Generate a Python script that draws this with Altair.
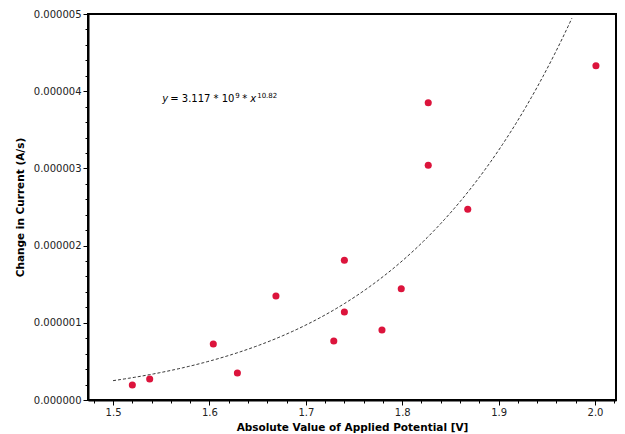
import altair as alt
import pandas as pd

# Measured data points
potential = [1.520, 1.538, 1.604, 1.629, 1.669, 1.729, 1.740, 1.740, 1.779, 1.799, 1.827, 1.827, 1.868, 2.001]
current = [0.194e-6, 0.272e-6, 0.725e-6, 0.350e-6, 1.347e-6, 0.764e-6, 1.810e-6, 1.140e-6,
           0.907e-6, 1.440e-6, 3.850e-6, 3.040e-6, 2.470e-6, 4.330e-6]

# Power-law fit parameters (curve as drawn)
fit_coef = 3.117e-9
fit_exp = 10.82
fit_start = 1.5
fit_stop = 1.977

x_major = [1.5, 1.6, 1.7, 1.8, 1.9, 2.0]
x_minor = [round(1.48 + 0.02 * i, 2) for i in range(28)]
y_major = [0, 1e-6, 2e-6, 3e-6, 4e-6, 5e-6]
y_minor = [round(0.2e-6 * i, 12) for i in range(26)]

x_domain = [1.474, 2.0218]
y_domain = [0, 5e-6]

# annotation anchor
ann_x = 1.551
ann_y = 3.86e-6
ann_pieces = [
    # text, dx, dy, size, style
    ("y", 0, 0, 10, "italic"),
    ("= 3.117 * 10", 8, 0, 10, "normal"),
    ("9", 73, -4, 7, "normal"),
    ("*", 80, 0, 10, "normal"),
    ("x", 88, 0, 10, "italic"),
    ("10.82", 95, -4, 7, "normal"),
]

FONT = "DejaVu Sans"

df = pd.DataFrame({"x": potential, "y": current})

xs = alt.Scale(domain=x_domain, nice=False, zero=False)
ys = alt.Scale(domain=y_domain, nice=False, zero=False)

points = alt.Chart(df).mark_circle(size=50, color="#dc143c", opacity=1).encode(
    x=alt.X("x:Q", scale=xs, axis=alt.Axis(
        values=x_major, format=".1f", title="Absolute Value of Applied Potential [V]",
        orient="bottom", titlePadding=5)),
    y=alt.Y("y:Q", scale=ys, axis=alt.Axis(
        values=y_major, format=".6f", title="Change in Current (A/s)",
        orient="left", titlePadding=8)),
)

minor = alt.Chart(df).mark_point(opacity=0).encode(
    x=alt.X("x:Q", scale=xs, axis=alt.Axis(
        values=x_minor, labels=False, domain=False, title=None, tickSize=3,
        orient="bottom", tickWidth=1)),
    y=alt.Y("y:Q", scale=ys, axis=alt.Axis(
        values=y_minor, labels=False, domain=False, title=None, tickSize=3,
        orient="left", tickWidth=1)),
)

fit = alt.Chart(alt.sequence(fit_start, fit_stop, 0.002, as_="x")).transform_calculate(
    y=f"{fit_coef} * pow(datum.x, {fit_exp})"
).mark_line(color="black", strokeWidth=0.8, strokeDash=[3, 2]).encode(
    x=alt.X("x:Q", scale=xs, axis=None),
    y=alt.Y("y:Q", scale=ys, axis=None),
)

ann_df = pd.DataFrame({"x": [ann_x], "y": [ann_y]})
ann_layers = []
for txt, dx, dy, size, style in ann_pieces:
    ann_layers.append(
        alt.Chart(ann_df).mark_text(
            text=txt, dx=dx, dy=dy, fontSize=size, fontStyle=style, font=FONT,
            align="left", baseline="alphabetic", color="black"
        ).encode(x=alt.X("x:Q", scale=xs, axis=None), y=alt.Y("y:Q", scale=ys, axis=None))
    )

chart = alt.layer(fit, points, *ann_layers, minor).resolve_axis(
    x="independent", y="independent"
).properties(
    width=528, height=386,
    autosize=alt.AutoSizeParams(type="none"),
    padding={"left": 80, "top": 6, "right": 1, "bottom": 34},
).configure_view(
    stroke="black", strokeWidth=2
).configure_axis(
    domainColor="black", domainWidth=2, tickColor="black", tickSize=5, grid=False,
    labelFont=FONT, labelFontSize=10, labelColor="#222",
    titleFont=FONT, titleFontSize=10.5, titleFontWeight="bold", titleColor="black",
    labelPadding=2,
)

chart.save("out.html", embed_options={"renderer": "svg", "actions": False})
